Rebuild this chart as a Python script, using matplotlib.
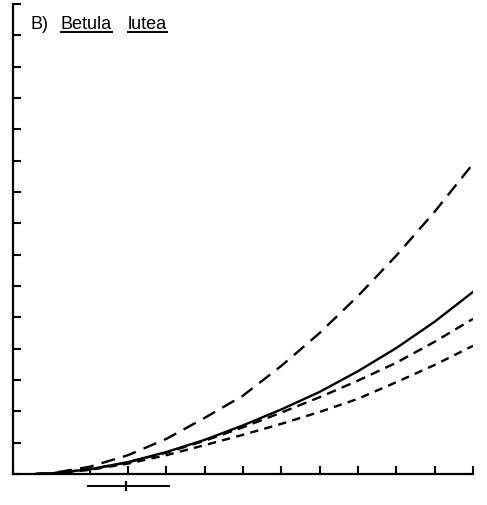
import matplotlib
matplotlib.use("Agg")
import matplotlib.pyplot as plt
from matplotlib.lines import Line2D

plt.rcParams['font.family'] = ['Liberation Sans', 'DejaVu Sans']
plt.rcParams['lines.scale_dashes'] = False

# values (x in tick units, y in tick units)
x_vals = [0.6, 1, 2, 3, 4, 5, 6, 7, 8, 9, 10, 11, 12]
upper_long = [0, 0.024, 0.23, 0.60, 1.12, 1.79, 2.50, 3.45, 4.50, 5.68, 6.97, 8.37, 9.90]
solid_mid = [0, 0.017, 0.15, 0.38, 0.70, 1.09, 1.55, 2.06, 2.62, 3.28, 4.02, 4.86, 5.81]
dash_mid = [0, 0.018, 0.15, 0.37, 0.68, 1.06, 1.49, 1.96, 2.45, 2.98, 3.55, 4.22, 4.95]
dash_low = [0, 0.015, 0.13, 0.33, 0.60, 0.92, 1.25, 1.60, 1.98, 2.40, 2.93, 3.48, 4.09]

x_ticks = [0, 2, 3, 4, 5, 6, 7, 8, 9, 10, 11, 12]
y_ticks = list(range(0, 16))

# range bar under the axis
bar_center = 2.95
bar_low = 1.93
bar_high = 4.10
bar_y = -0.38

fig = plt.figure(figsize=(4.87, 5.06), dpi=100)
ax = fig.add_axes([0.0267, 0.0613, 0.9446, 0.929])

ax.plot(x_vals, upper_long, color='black', lw=1.7, dashes=(10, 6))
ax.plot(x_vals, solid_mid, color='black', lw=1.7)
ax.plot(x_vals, dash_mid, color='black', lw=1.7, dashes=(7, 4.5))
ax.plot(x_vals, dash_low, color='black', lw=1.7, dashes=(6, 4.5))

ax.errorbar([bar_center], [bar_y], xerr=[[bar_center - bar_low], [bar_high - bar_center]],
            fmt='|', color='black', ms=7, mew=1.6, elinewidth=1.4, capsize=0, clip_on=False)

ax.set_xlim(0, 12)
ax.set_ylim(0, 15)
ax.set_xticks(x_ticks)
ax.set_yticks(y_ticks)
ax.tick_params(direction='in', length=5.5, width=1.5, labelbottom=False, labelleft=False)
for side in ('top', 'right'):
    ax.spines[side].set_visible(False)
for side in ('left', 'bottom'):
    ax.spines[side].set_linewidth(1.6)

# title pieces, underlined word by word
base = 1 - 29 / 506
t1 = fig.text(30 / 487, base, "B)", fontsize=13, va='baseline')
t2 = fig.text(61 / 487, base, "Betula", fontsize=13, va='baseline')
t3 = fig.text(128 / 487, base, "lutea", fontsize=13, va='baseline')

fig.canvas.draw()
r = fig.canvas.get_renderer()
for t in (t2, t3):
    bb = t.get_window_extent(renderer=r).transformed(fig.transFigure.inverted())
    yy = 1 - 33 / 506
    fig.add_artist(Line2D([bb.x0, bb.x1], [yy, yy], color='black', lw=1.4,
                          transform=fig.transFigure))

plt.savefig("out.png", dpi=100)
